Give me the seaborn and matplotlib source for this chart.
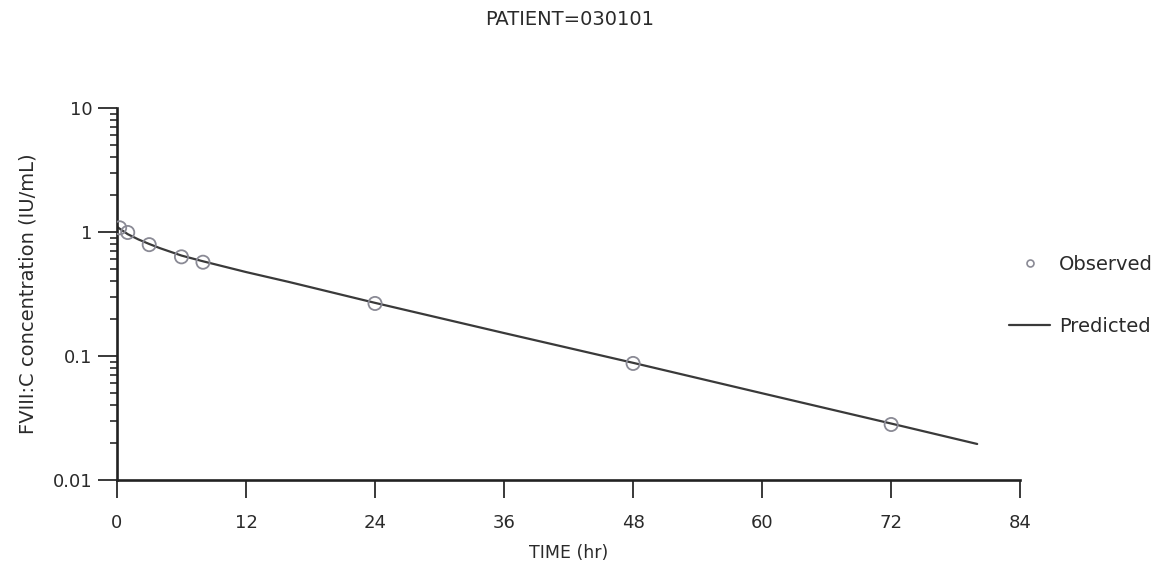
import numpy as np
import pandas as pd
import matplotlib
matplotlib.use("Agg")
import matplotlib.pyplot as plt
import seaborn as sns
from matplotlib.lines import Line2D

# Observed data
obs_time = [0.25, 1, 3, 6, 8, 24, 48, 72]
obs_conc = [1.08, 0.99, 0.79, 0.63, 0.57, 0.265, 0.087, 0.028]

# Predicted curve
pred_time = [0, 1, 2, 3, 4, 6, 8, 12, 16, 24, 36, 48, 60, 72, 80]
pred_conc = [1.10, 0.96, 0.87, 0.80, 0.74, 0.645, 0.58, 0.475, 0.395, 0.268, 0.153, 0.088, 0.050, 0.0285, 0.0195]

title = "PATIENT=030101"
xlabel = "TIME (hr)"
ylabel = "FVIII:C concentration (IU/mL)"
xticks = [0, 12, 24, 36, 48, 60, 72, 84]
yticks = [0.01, 0.1, 1, 10]
yticklabels = ["0.01", "0.1", "1", "10"]

sns.set_style("ticks")
plt.rcParams['font.family'] = ['DejaVu Sans']

TXT = "#2a2a2a"
fig = plt.figure(figsize=(11.58, 5.70), dpi=100)
ax = fig.add_axes([0.101, 0.158, 0.780, 0.6526])

obs_df = pd.DataFrame({"t": obs_time, "c": obs_conc})
pred_df = pd.DataFrame({"t": pred_time, "c": pred_conc})

sns.lineplot(data=pred_df, x="t", y="c", ax=ax, color="#3a3a3a", lw=1.6, zorder=2)
sns.scatterplot(data=obs_df, x="t", y="c", ax=ax, marker="o", s=90,
                facecolors="none", edgecolor="#8a8a95", linewidth=1.3, zorder=3)

ax.set_yscale("log")
ax.set_ylim(0.01, 10)
ax.set_xlim(0, 84)
ax.set_xticks(xticks)
ax.set_xticklabels([str(v) for v in xticks], fontsize=13, color=TXT)
ax.set_yticks(yticks)
ax.set_yticklabels(yticklabels, fontsize=13, color=TXT)
ax.tick_params(axis="x", which="major", length=13, width=1.3, direction="out", pad=11.5, colors=TXT)
ax.tick_params(axis="y", which="major", length=14, width=1.3, direction="out", pad=3.5, colors=TXT)
ax.tick_params(axis="y", which="minor", length=5, width=1.2, direction="out", colors=TXT)

for s in ["top", "right"]:
    ax.spines[s].set_visible(False)
for s in ["left", "bottom"]:
    ax.spines[s].set_linewidth(1.9)
    ax.spines[s].set_color("#222222")

ax.set_xlabel(xlabel, fontsize=12.5, color=TXT, labelpad=9)
ax.set_ylabel(ylabel, fontsize=14, color=TXT, labelpad=11)
fig.text(0.492, 0.965, title, ha="center", va="center", fontsize=14, color=TXT)

handles = [
    Line2D([], [], marker="o", linestyle="none", markersize=5, markerfacecolor="none",
           markeredgecolor="#8a8a95", markeredgewidth=1.2, label="Observed"),
    Line2D([], [], color="#3a3a3a", lw=1.6, label="Predicted"),
]
leg = fig.legend(handles=handles, loc="center left", bbox_to_anchor=(0.871, 0.482),
                 frameon=False, fontsize=14, labelspacing=2.2, handlelength=2.15,
                 handletextpad=0.45, borderpad=0, borderaxespad=0)
for t in leg.get_texts():
    t.set_color(TXT)

fig.savefig("out.png", dpi=100, facecolor="white")
